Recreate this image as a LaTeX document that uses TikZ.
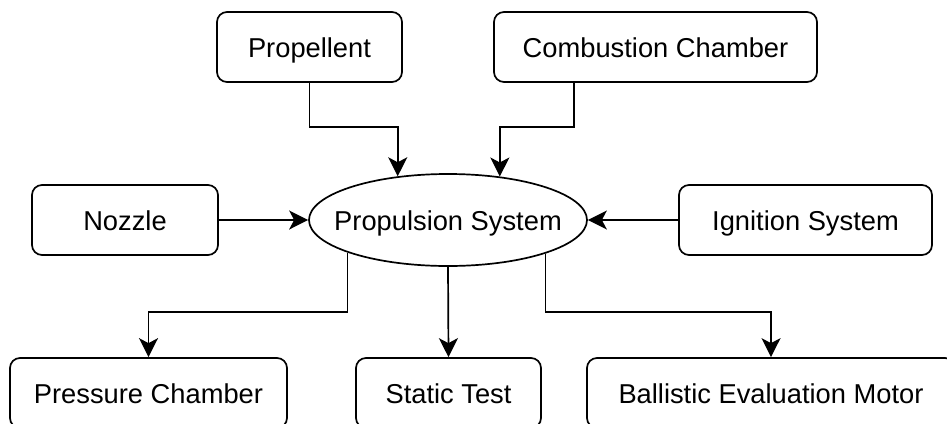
\documentclass[tikz,border=0pt]{standalone}
\usepackage{fontspec}
\setmainfont{Liberation Sans}
\usetikzlibrary{shapes.geometric,arrows.meta,calc}
\begin{document}
\begin{tikzpicture}[x=1pt,y=-1pt,
  lbl/.style={font=\fontsize{27.3}{32}\selectfont, inner sep=0pt, text height=21.5pt, text depth=0pt},
  box/.style={draw, line width=1.7pt, rounded corners=10pt, minimum height=70pt, inner sep=0pt, lbl},
  conn/.style={draw, line width=1.7pt, -{Stealth[length=19pt,width=19pt,inset=5pt]}}]
\useasboundingbox (0,0) rectangle (947,423);
\clip (0,0) rectangle (947,423);
% nodes
\node[box, minimum width=185pt] (prop) at (309.5,47) {Propellent};
\node[box, minimum width=323pt] (comb) at (655.5,47) {Combustion Chamber};
\node[box, minimum width=186pt] (noz) at (125,220) {Nozzle};
\node[box, minimum width=253pt] (ign) at (805.5,220) {Ignition System};
\node[box, minimum width=277pt] (pc) at (148.5,393) {Pressure Chamber};
\node[box, minimum width=185pt] (st) at (448.5,393) {Static Test};
\node[box, minimum width=368pt] (bem) at (771,393) {Ballistic Evaluation Motor};
\node[draw, ellipse, line width=1.7pt, minimum width=278pt, minimum height=92pt, inner sep=0pt] (ps) at (448,220) {};
\node[lbl] (pstext) at (ps.center) {Propulsion System};
% helper coordinates
\coordinate (jt) at (0,127);
\coordinate (jb) at (0,312);
\coordinate (pa) at (ps.139.4);
\coordinate (pb) at (ps.40.6);
\coordinate (pl) at (ps.198.7);
\coordinate (pr) at (ps.341.3);
\coordinate (cx) at ($(comb.south west)!0.25!(comb.south east)$);
% connectors
\draw[conn] (prop.south) |- (jt -| pa) -- (pa);
\draw[conn] (cx) |- (jt -| pb) -- (pb);
\draw[conn] (noz.east) -- (ps.west);
\draw[conn] (ign.west) -- (ps.east);
\draw[conn] (pl) |- (jb -| pc.north) -- (pc.north);
\draw[conn] (ps.south) -- (st.north);
\draw[conn] (pr) |- (jb -| bem.north) -- (bem.north);
\end{tikzpicture}
\end{document}
